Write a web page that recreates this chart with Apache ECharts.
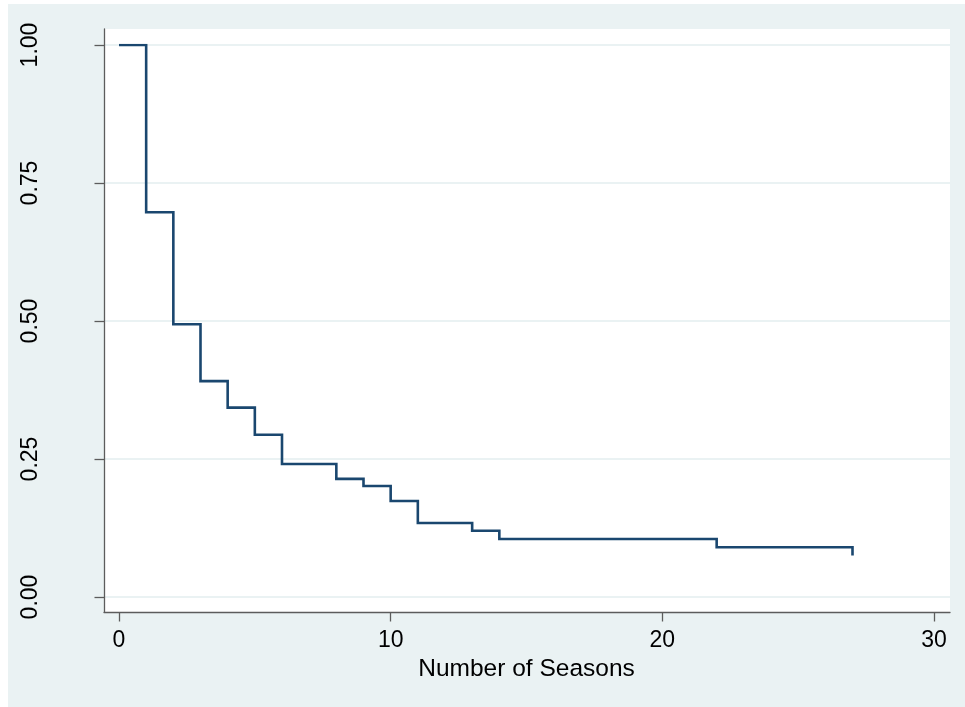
<!DOCTYPE html>
<html>
<head>
<meta charset="utf-8">
<script src="https://cdn.jsdelivr.net/npm/echarts@6/dist/echarts.min.js"></script>
<style>
html,body{margin:0;padding:0;background:#ffffff;}
#chart{width:965px;height:707px;}
</style>
</head>
<body>
<div id="chart"></div>
<script>
// Kaplan-Meier survival estimate
const seasons  = [0, 1, 2, 3, 4, 5, 6, 8, 9, 10, 11, 13, 14, 22, 27];
const survival = [1.000, 0.697, 0.494, 0.391, 0.343, 0.294, 0.241, 0.214, 0.201, 0.174, 0.134, 0.120, 0.105, 0.090, 0.075];
const xTicks = [0, 10, 20, 30];
const yTicks = ['0.00', '0.25', '0.50', '0.75', '1.00'];
const xTitle = 'Number of Seasons';

const FONT = '"Liberation Sans", Arial, Helvetica, sans-serif';
const AXIS_COLOR = '#5c5c5c';
const GRID_COLOR = '#eaf2f3';

const points = seasons.map((t, i) => [t, survival[i]]);

const chart = echarts.init(document.getElementById('chart'), null, {renderer: 'canvas'});
chart.setOption({
  backgroundColor: 'transparent',
  animation: false,
  textStyle: {fontFamily: FONT},
  graphic: [{
    type: 'rect', left: 8, top: 4, z: -100,
    shape: {width: 957, height: 703},
    style: {fill: '#eaf2f3'}
  }],
  grid: [
    // plot region (white) with axis lines
    {left: 104, right: 15, top: 29, bottom: 95, show: true, backgroundColor: '#ffffff', borderWidth: 0, z: 0},
    // y ticks / gridlines (full width)
    {left: 104, right: 15, top: 45, bottom: 110, show: false},
    // data region
    {left: 119, right: 31, top: 45, bottom: 110, show: false}
  ],
  xAxis: [
    {gridIndex: 0, type: 'value', min: 0, max: 1, z: 3,
     axisLine: {show: true, onZero: false, lineStyle: {color: AXIS_COLOR, width: 1.3}},
     axisTick: {show: false}, axisLabel: {show: false}, splitLine: {show: false}},
    {gridIndex: 1, type: 'value', min: 0, max: 1, show: false},
    {gridIndex: 2, type: 'value', min: 0, max: 30, interval: 10, offset: 15, z: 3,
     axisLine: {show: false, onZero: false},
     axisTick: {show: true, length: 9.5, lineStyle: {color: AXIS_COLOR, width: 1.3}},
     axisLabel: {show: true, margin: 17, fontSize: 23, color: '#000', fontFamily: FONT,
       formatter: v => (xTicks.indexOf(v) >= 0 ? String(v) : '')},
     splitLine: {show: false},
     name: xTitle, nameLocation: 'middle', nameGap: 38,
     nameTextStyle: {fontSize: 24.5, color: '#000', fontFamily: FONT}}
  ],
  yAxis: [
    {gridIndex: 0, type: 'value', min: 0, max: 1, z: 3,
     axisLine: {show: true, onZero: false, lineStyle: {color: AXIS_COLOR, width: 1.3}},
     axisTick: {show: false}, axisLabel: {show: false}, splitLine: {show: false}},
    {gridIndex: 1, type: 'value', min: 0, max: 1, interval: 0.25, z: 2,
     axisLine: {show: false, onZero: false},
     axisTick: {show: true, length: 9.5, lineStyle: {color: AXIS_COLOR, width: 1.3}},
     axisLabel: {show: true, rotate: 90, margin: 62, fontSize: 23, color: '#000', fontFamily: FONT,
       formatter: v => yTicks[Math.round(v / 0.25)]},
     splitLine: {show: true, lineStyle: {color: GRID_COLOR, width: 1.8}}},
    {gridIndex: 2, type: 'value', min: 0, max: 1, show: false}
  ],
  series: [{
    type: 'line',
    xAxisIndex: 2, yAxisIndex: 2,
    step: 'end',
    data: points,
    showSymbol: false,
    symbol: 'none',
    z: 5,
    lineStyle: {color: '#1a476f', width: 2.6, cap: 'butt', join: 'miter'}
  }]
});
</script>
</body>
</html>
